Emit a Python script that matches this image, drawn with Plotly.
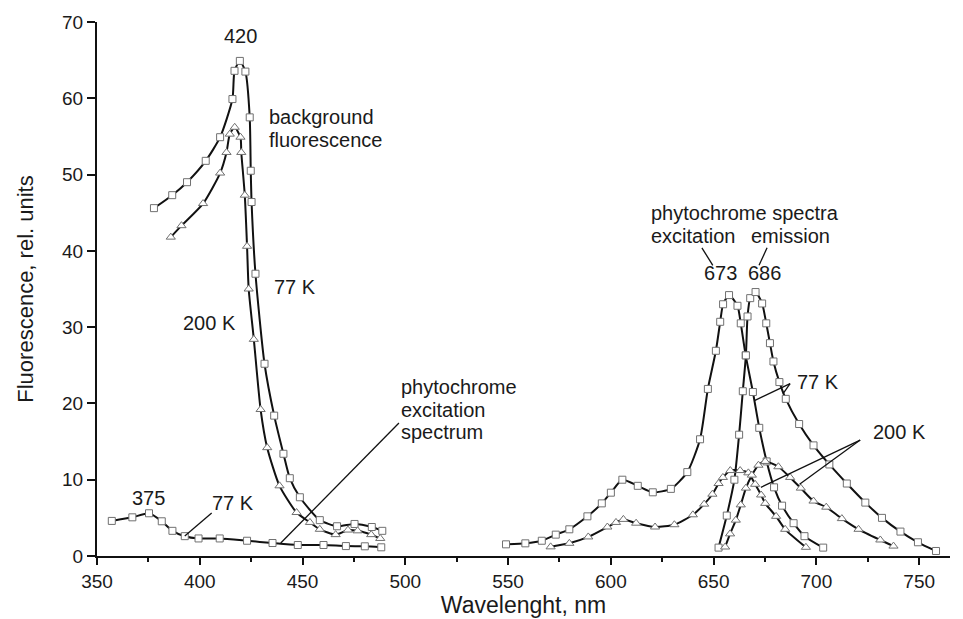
import plotly.graph_objects as go

# ---------------- data ----------------
bg77_x = [377.7, 386.6, 393.8, 402.9, 409.9, 415.9, 416.9, 419.5, 422.2, 424.3, 424.8, 425.2,
          427.1, 431.5, 436.2, 440.7, 443.8, 448.7, 458.4, 466.8, 475.3, 483.7, 488.8]
bg77_y = [45.6, 47.3, 49.0, 51.8, 54.9, 59.9, 63.6, 64.9, 63.5, 57.5, 50.5, 46.4,
          37.0, 25.2, 18.4, 13.4, 10.2, 7.7, 4.7, 3.9, 4.2, 3.8, 3.3]

bg200_x = [385.9, 391.1, 401.6, 409.9, 413.0, 414.6, 417.0, 419.8, 420.2, 421.9, 423.0, 423.8,
           426.3, 429.6, 432.8, 438.8, 447.1, 453.6, 458.4, 466.1, 472.1, 476.8, 483.4, 487.8]
bg200_y = [41.8, 43.3, 46.2, 50.2, 52.9, 55.3, 56.2, 54.9, 52.9, 47.3, 40.6, 35.0,
           28.4, 19.2, 14.2, 9.2, 5.7, 4.4, 3.5, 2.8, 3.4, 3.3, 2.8, 2.3]

exuv77_x = [357.2, 367.2, 375.3, 381.5, 386.7, 392.7, 399.4, 409.7, 423.0, 435.4, 447.7,
            460.2, 471.1, 480.3, 488.3]
exuv77_y = [4.6, 5.07, 5.6, 4.55, 3.3, 2.6, 2.3, 2.3, 2.0, 1.7, 1.44, 1.44, 1.3, 1.27, 1.14]

ex77_x = [549.0, 558.4, 566.4, 573.2, 579.8, 588.6, 595.6, 600.0, 605.6, 613.1, 620.4, 629.2,
          637.2, 643.4, 647.2, 651.1, 653.2, 654.6, 657.5, 661.6, 663.2, 665.6, 669.1, 672.2,
          675.8, 679.4, 683.3, 688.9, 694.2, 703.3]
ex77_y = [1.53, 1.66, 2.0, 2.8, 3.5, 5.2, 6.9, 8.3, 10.0, 9.2, 8.35, 8.8,
          11.0, 15.3, 21.9, 26.9, 30.7, 33.0, 34.2, 32.8, 30.5, 26.3, 21.5, 16.8,
          12.4, 9.0, 6.6, 4.3, 2.6, 1.1]

em77_x = [652.4, 656.4, 660.1, 662.4, 664.2, 665.7, 666.5, 667.8, 670.4, 673.6, 675.6, 677.4,
          679.1, 682.0, 685.1, 691.6, 698.6, 706.3, 714.8, 723.8, 731.9, 740.9, 749.4, 758.2]
em77_y = [1.1, 5.3, 10.0, 15.9, 21.6, 26.3, 31.4, 33.8, 34.6, 33.1, 30.5, 27.9,
          25.5, 22.8, 20.6, 17.3, 14.5, 12.0, 9.5, 7.0, 5.0, 3.2, 1.8, 0.66]

ex200_x = [570.7, 579.8, 589.0, 598.3, 602.5, 606.1, 612.3, 621.5, 630.9, 639.9, 645.4, 649.4,
           652.4, 654.5, 658.1, 662.9, 666.9, 670.2, 673.1, 675.1, 680.4, 684.8, 694.9]
ex200_y = [1.2, 1.66, 2.5, 3.8, 4.4, 4.8, 4.3, 3.8, 4.1, 5.4, 6.8, 8.1,
           9.5, 10.3, 11.2, 11.2, 10.9, 9.4, 8.0, 6.9, 5.2, 3.5, 1.14]

em200_x = [655.6, 658.0, 660.8, 663.2, 665.7, 668.6, 671.8, 675.1, 681.5, 687.2, 692.4, 698.6,
           704.8, 712.4, 720.5, 731.1, 737.5]
em200_y = [1.18, 2.9, 4.7, 6.7, 8.9, 10.6, 11.9, 12.4, 11.7, 10.3, 8.9, 7.2,
           6.4, 4.9, 3.5, 2.1, 1.3]

x_ticks = [350, 400, 450, 500, 550, 600, 650, 700, 750]
y_ticks = [0, 10, 20, 30, 40, 50, 60, 70]

# ---------------- figure ----------------
FONT = "Liberation Sans, Arial, sans-serif"
LINE = dict(color="#111111", width=2, shape="spline", smoothing=0.6)
SQ = dict(symbol="square", size=7, color="white", line=dict(color="#707070", width=1))
TR = dict(symbol="triangle-up", size=8, color="white", line=dict(color="#707070", width=1))

fig = go.Figure()
series = [
    (bg77_x, bg77_y, SQ), (bg200_x, bg200_y, TR), (exuv77_x, exuv77_y, SQ),
    (ex77_x, ex77_y, SQ), (em77_x, em77_y, SQ), (ex200_x, ex200_y, TR), (em200_x, em200_y, TR),
]
for xs, ys, mk in series:
    fig.add_trace(go.Scatter(x=xs, y=ys, mode="lines+markers", line=LINE, marker=mk,
                             showlegend=False, hoverinfo="skip"))

ann_font = dict(family=FONT, size=20, color="#1a1a1a")
labels = [
    ("420", 419.6, 68.2, "center"),
    ("background", 432.9, 57.5, "left"),
    ("fluorescence", 432.9, 54.5, "left"),
    ("77 K", 446.2, 35.3, "center"),
    ("200 K", 404.9, 30.5, "center"),
    ("phytochrome", 497.0, 22.2, "left"),
    ("excitation", 497.0, 19.2, "left"),
    ("spectrum", 497.0, 16.3, "left"),
    ("375", 374.9, 7.6, "center"),
    ("77 K", 416.2, 7.0, "center"),
    ("phytochrome spectra", 618.6, 44.95, "left"),
    ("excitation", 618.6, 41.9, "left"),
    ("emission", 667.4, 41.9, "left"),
    ("673", 653.1, 37.1, "center"),
    ("686", 674.7, 37.1, "center"),
    ("77 K", 689.6, 22.8, "left"),
    ("200 K", 740.3, 16.3, "center"),
]
for txt, x, y, xa in labels:
    fig.add_annotation(x=x, y=y, text=txt, showarrow=False, xanchor=xa, yanchor="middle",
                       align="left", font=ann_font)

leaders = [
    (392.7, 2.62, 405.8, 5.64),
    (439.4, 1.70, 496.9, 17.43),
    (644.3, 40.4, 649.6, 38.1),
    (676.0, 40.4, 672.1, 38.1),
    (687.2, 22.6, 670.1, 20.4),
    (687.2, 22.6, 683.8, 21.3),
    (721.3, 15.2, 673.0, 9.0),
    (721.3, 15.2, 691.8, 9.4),
]
for x0, y0, x1, y1 in leaders:
    fig.add_shape(type="line", x0=x0, y0=y0, x1=x1, y1=y1, xref="x", yref="y",
                  line=dict(color="#111111", width=1.3))

fig.update_layout(
    width=963, height=619,
    margin=dict(l=97, r=13, t=22, b=63),
    paper_bgcolor="white", plot_bgcolor="white",
    font=dict(family=FONT, size=19, color="#1a1a1a"),
)
fig.update_xaxes(
    range=[350, 765], tickvals=x_ticks, showgrid=False, zeroline=False, automargin=False,
    showline=True, linecolor="#111111", linewidth=2,
    ticks="outside", ticklen=7, tickwidth=1.5, tickcolor="#111111",
    minor=dict(dtick=25, tick0=350, ticks="outside", ticklen=4, tickwidth=1.5, tickcolor="#111111"),
    tickfont=dict(family=FONT, size=19),
    title=dict(text="Wavelenght, nm", font=dict(family=FONT, size=23), standoff=1),
)
fig.update_yaxes(
    range=[0, 70], tickvals=y_ticks, showgrid=False, zeroline=False, automargin=False,
    showline=True, linecolor="#111111", linewidth=2,
    ticks="outside", ticklen=8, tickwidth=1.5, tickcolor="#111111",
    tickfont=dict(family=FONT, size=19),
    title=dict(text="Fluorescence, rel. units", font=dict(family=FONT, size=22), standoff=22),
)

fig.write_html("out.html")
